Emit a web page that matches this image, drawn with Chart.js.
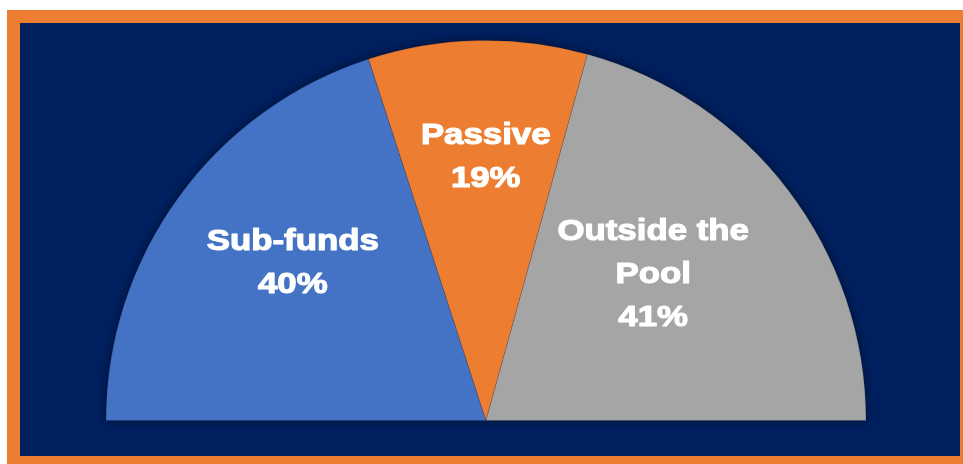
<!DOCTYPE html>
<html>
<head>
<meta charset="utf-8">
<script src="https://cdn.jsdelivr.net/npm/chart.js@4"></script>
<style>
  html, body { margin: 0; padding: 0; background: #ffffff; overflow: hidden; }
  #frame {
    position: absolute; left: 7px; top: 10px;
    width: 940px; height: 433px;
    border: 13px solid #ED7D31;
    background: #002060;
  }
  #chart { display: block; }
</style>
</head>
<body>
<div id="frame"><canvas id="chart" width="940" height="433"></canvas></div>
<script>
// categorias e valores (rotulos mostram o valor arredondado)
const categorias = [['Sub-funds'], ['Passive'], ['Outside the', 'Pool']];
const valores = [40, 18.6, 41.4];
const cores = ['#4472C4', '#ED7D31', '#A5A5A5'];

// posicao do rotulo: fracao do raio e ajuste de angulo (graus)
const raioRotulo = [0.66, 0.70, 0.587];
const ajusteAngulo = [3.6, 1.2, -4.2];

// sombra por baixo do semicirculo
const sombraPlugin = {
    id: 'sombra',
    beforeDatasetsDraw(chart) {
        const arc = chart.getDatasetMeta(0).data[0];
        if (!arc) return;
        const ctx = chart.ctx;
        ctx.save();
        ctx.shadowColor = 'rgba(0, 0, 0, 0.5)';
        ctx.shadowBlur = 12;
        ctx.fillStyle = '#002060';
        ctx.beginPath();
        ctx.arc(arc.x, arc.y, arc.outerRadius, Math.PI, 2 * Math.PI);
        ctx.closePath();
        ctx.fill();
        ctx.restore();
    }
};

// rotulos dentro das fatias
const rotulosPlugin = {
    id: 'rotulos',
    afterDatasetsDraw(chart) {
        const ctx = chart.ctx;
        const meta = chart.getDatasetMeta(0);
        const alturaLinha = 43;
        const esticar = 1.2; // texto do original esta esticado na horizontal
        meta.data.forEach((arc, i) => {
            const meio = (arc.startAngle + arc.endAngle) / 2 + ajusteAngulo[i] * Math.PI / 180;
            const r = arc.outerRadius * raioRotulo[i];
            const x = arc.x + Math.cos(meio) * r;
            const y = arc.y + Math.sin(meio) * r + 2.5;
            const linhas = categorias[i].concat([Math.round(valores[i]) + '%']);
            const inicio = y - (linhas.length - 1) * alturaLinha / 2;
            ctx.save();
            ctx.translate(x, 0);
            ctx.scale(esticar, 1);
            ctx.fillStyle = '#ffffff';
            ctx.strokeStyle = '#ffffff';
            ctx.lineWidth = 1.1;
            ctx.lineJoin = 'round';
            ctx.font = 'bold 29px "Liberation Sans", Arial, sans-serif';
            ctx.textAlign = 'center';
            ctx.textBaseline = 'middle';
            linhas.forEach((t, j) => {
                ctx.fillText(t, 0, inicio + j * alturaLinha);
                ctx.strokeText(t, 0, inicio + j * alturaLinha);
            });
            ctx.restore();
        });
    }
};

const config = {
    type: 'pie',
    data: {
        labels: categorias,
        datasets: [{
            data: valores,
            backgroundColor: cores,
            borderColor: 'rgba(0, 0, 0, 0.12)',
            borderWidth: 1
        }]
    },
    options: {
        responsive: false,
        animation: false,
        rotation: -90,
        circumference: 180,
        layout: {
            padding: { left: 85, right: 93, top: 17, bottom: 35 }
        },
        plugins: {
            legend: { display: false },
            tooltip: { enabled: false }
        }
    },
    plugins: [sombraPlugin, rotulosPlugin]
};

const ctx = document.getElementById('chart').getContext('2d');
new Chart(ctx, config);
</script>
</body>
</html>
